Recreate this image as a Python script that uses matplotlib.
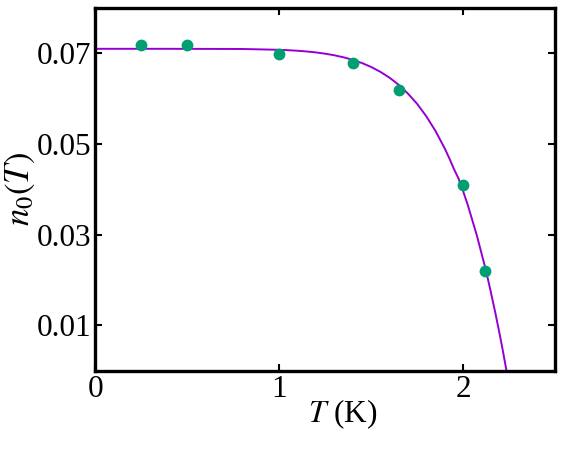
import matplotlib
matplotlib.use("Agg")
import matplotlib.pyplot as plt

plt.rcParams['font.family'] = ['Liberation Serif', 'DejaVu Serif']
plt.rcParams['mathtext.fontset'] = 'stix'

# measured points
T_data = [0.25, 0.50, 1.00, 1.40, 1.65, 2.00, 2.12]
n0_data = [0.0719, 0.0719, 0.0698, 0.0679, 0.0619, 0.0410, 0.0220]

# fit curve
T_fit = [0.0, 0.4, 0.8, 1.0, 1.05, 1.1, 1.15, 1.2, 1.25, 1.3, 1.35, 1.4,
         1.45, 1.5, 1.55, 1.6, 1.65, 1.7, 1.75, 1.8, 1.85, 1.9, 1.925,
         1.95, 1.975, 2.0, 2.025, 2.05, 2.075, 2.1, 2.125, 2.15, 2.175,
         2.2, 2.215, 2.236]
n0_fit = [0.0710, 0.0710, 0.07096, 0.07078, 0.07069, 0.07057, 0.07041,
          0.07020, 0.06992, 0.06957, 0.06912, 0.06856, 0.06786, 0.06699,
          0.06592, 0.06462, 0.06305, 0.06112, 0.05885, 0.05610, 0.05286,
          0.04903, 0.04685, 0.04449, 0.04240, 0.03960, 0.03660, 0.03320,
          0.02980, 0.02590, 0.02200, 0.01750, 0.01283, 0.00783, 0.00467,
          0.0]

fig = plt.figure(figsize=(5.63, 4.63), dpi=100)
ax = fig.add_axes([0.1696, 0.1994, 0.8162, 0.7833])

ax.plot(T_fit, n0_fit, color='#9400D3', lw=1.4, zorder=2)
ax.plot(T_data, n0_data, 'o', color='#009E73', ms=8.5, mec='none', zorder=3)

ax.set_xlim(0, 2.5)
ax.set_ylim(0, 0.08)
ax.set_xticks([0, 1, 2])
ax.set_xticklabels(['0', '1', '2'])
ax.set_yticks([0.01, 0.03, 0.05, 0.07])
ax.set_yticklabels(['0.01', '0.03', '0.05', '0.07'])

ax.tick_params(direction='in', length=5, width=1.5, top=True, right=True,
               labelsize=22.5, pad=3)
for s in ax.spines.values():
    s.set_linewidth(2.4)

ax.set_xlabel(r'$T$ (K)', fontsize=22.5, labelpad=-5)
ax.xaxis.set_label_coords(0.538, -0.075)
ax.set_ylabel(r'$n_0(T)$', fontsize=25, labelpad=0)

fig.savefig('out.png', dpi=100)
